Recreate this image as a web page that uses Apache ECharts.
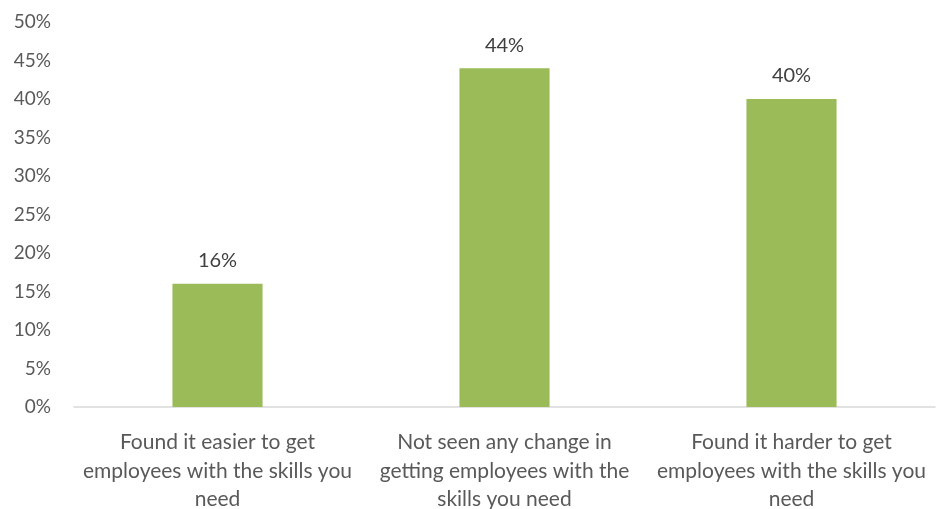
<!DOCTYPE html>
<html>
<head>
<meta charset="utf-8">
<script src="https://cdn.jsdelivr.net/npm/echarts@6/dist/echarts.min.js"></script>
<style>
  html, body { margin: 0; padding: 0; background: #ffffff; }
  #chart { width: 940px; height: 509px; }
</style>
</head>
<body>
<div id="chart"></div>
<script>
// Categories (line breaks placed where the labels wrap)
var categories = [
  'Found it easier to get\nemployees with the skills you\nneed',
  'Not seen any change in\ngetting employees with the\nskills you need',
  'Found it harder to get\nemployees with the skills you\nneed'
];
// Share of respondents, in percent
var shares = [16, 44, 40];
// Value axis range and step
var axisMin = 0;
var axisMax = 50;
var axisStep = 5;

var fontFamily = 'Lato, "Liberation Sans", sans-serif';

var chart = echarts.init(document.getElementById('chart'), null, { renderer: 'canvas' });
chart.setOption({
  animation: false,
  backgroundColor: '#ffffff',
  grid: {
    left: 74, right: 5, top: 22, bottom: 102,
    containLabel: false,
    outerBoundsMode: 'none'
  },
  xAxis: {
    type: 'category',
    data: categories,
    axisLine: { show: true, lineStyle: { color: '#D9D9D9', width: 1.5 } },
    axisTick: { show: false },
    axisLabel: {
      interval: 0,
      margin: 21,
      color: '#595959',
      fontFamily: fontFamily,
      fontSize: 21,
      lineHeight: 28.5,
      align: 'center'
    }
  },
  yAxis: {
    type: 'value',
    min: axisMin,
    max: axisMax,
    interval: axisStep,
    axisLine: { show: false },
    axisTick: { show: false },
    splitLine: { show: false },
    axisLabel: {
      margin: 23,
      color: '#595959',
      fontFamily: fontFamily,
      fontSize: 19,
      formatter: function (v) { return v + '%'; }
    }
  },
  series: [{
    type: 'bar',
    data: shares,
    barWidth: '31.4%',
    itemStyle: { color: '#9BBB59' },
    label: {
      show: true,
      position: 'top',
      distance: 13,
      color: '#404040',
      fontFamily: fontFamily,
      fontSize: 20,
      formatter: function (p) { return p.value + '%'; }
    }
  }]
});
</script>
</body>
</html>
